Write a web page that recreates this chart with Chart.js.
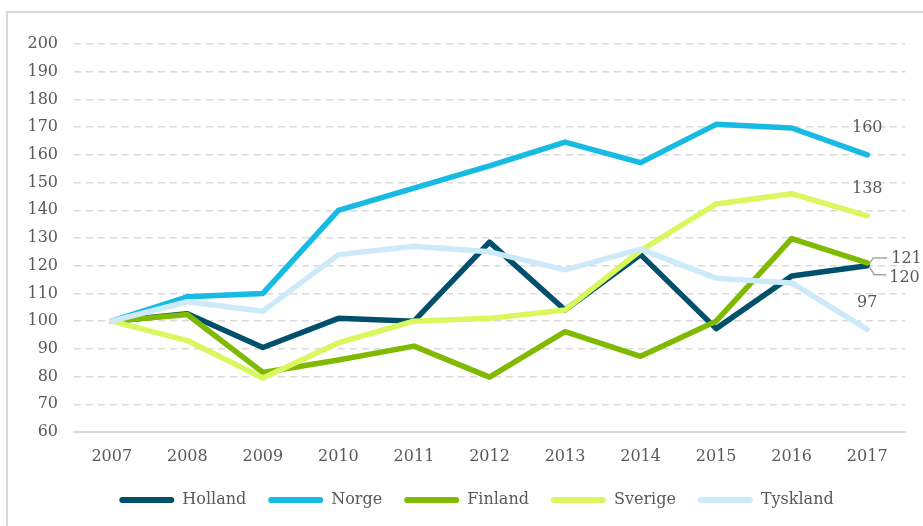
<!DOCTYPE html>
<html>
<head>
<meta charset="utf-8">
<script src="https://cdn.jsdelivr.net/npm/chart.js@4.4.1/dist/chart.umd.min.js"></script>
<style>
  body { margin: 0; background: #fff; }
  .wrap { position: relative; width: 923px; height: 526px; }
  .frame { position: absolute; left: 6px; top: 11px; right: -4px; bottom: -4px;
           border-left: 2px solid #d9d9d9; border-top: 2px solid #d9d9d9; }
  canvas { position: absolute; left: 0; top: 0; }
</style>
</head>
<body>
<div class="wrap">
  <div class="frame"></div>
  <canvas id="myChart" width="923" height="526"></canvas>
</div>
<script>
const years = ['2007', '2008', '2009', '2010', '2011', '2012', '2013', '2014', '2015', '2016', '2017'];
const holland  = [100, 102.7, 90.5, 101, 100, 128.5, 104, 124, 97.3, 116.3, 120];
const norge    = [100, 108.8, 110, 140, 148, 156, 164.6, 157.2, 171, 169.7, 160];
const finland  = [100, 102.4, 81.5, 86, 91, 79.8, 96.2, 87.3, 100, 129.8, 121];
const sverige  = [100, 93, 79.5, 92.2, 100, 101, 104, 125.5, 142.3, 146, 138];
const tyskland = [100, 107, 103.6, 124, 127, 125, 118.5, 126, 115.5, 113.8, 97];
const yTicks = { min: 60, max: 200, step: 10 };

const textColor = '#595959';
const serif = 'DejaVu Serif';

function line(label, data, color, order) {
  return {
    label: label,
    data: data,
    borderColor: color,
    backgroundColor: color,
    borderWidth: 5.5,
    pointRadius: 0,
    tension: 0,
    borderCapStyle: 'round',
    borderJoinStyle: 'round',
    order: order
  };
}

// value labels at the end of each line
const endLabels = {
  id: 'endLabels',
  afterLayout(chart) {
    // legend sits a bit right of centre in the original
    chart.legend.left += 40;
  },
  afterDatasetsDraw(chart) {
    const ctx = chart.ctx;
    const last = years.length - 1;
    const pt = function(i) { return chart.getDatasetMeta(i).data[last]; };
    ctx.save();
    ctx.font = '16px "' + serif + '"';
    ctx.fillStyle = textColor;
    ctx.textBaseline = 'middle';
    ctx.textAlign = 'center';
    [1, 3, 4].forEach(function(i) {
      const p = pt(i);
      ctx.fillText(String(chart.data.datasets[i].data[last]), p.x, p.y - 27);
    });
    // the two close ones get leader lines
    const fin = pt(2), hol = pt(0);
    ctx.strokeStyle = '#a6a6a6';
    ctx.lineWidth = 1.5;
    ctx.beginPath();
    ctx.moveTo(fin.x + 2, fin.y + 1);
    ctx.lineTo(fin.x + 6, fin.y - 5);
    ctx.lineTo(fin.x + 20, fin.y - 5);
    ctx.moveTo(hol.x + 2, hol.y + 1);
    ctx.lineTo(hol.x + 7, hol.y + 9);
    ctx.lineTo(hol.x + 19, hol.y + 9);
    ctx.stroke();
    ctx.textAlign = 'left';
    ctx.fillText(String(finland[last]), fin.x + 24, fin.y - 4);
    ctx.fillText(String(holland[last]), hol.x + 22, hol.y + 12);
    ctx.restore();
  }
};

const ctx = document.getElementById('myChart').getContext('2d');
const chart = new Chart(ctx, {
  type: 'line',
  data: {
    labels: years,
    datasets: [
      line('Holland', holland, '#00506b', 5),
      line('Norge', norge, '#17bae3', 4),
      line('Finland', finland, '#80ba00', 3),
      line('Sverige', sverige, '#daf760', 2),
      line('Tyskland', tyskland, '#cdeaf8', 1)
    ]
  },
  options: {
    responsive: false,
    animation: false,
    layout: { padding: { left: 8, right: 18, top: 44, bottom: 8 } },
    scales: {
      x: {
        offset: true,
        grid: { display: false },
        border: { display: true, color: '#d9d9d9', width: 2 },
        ticks: { color: textColor, font: { family: serif, size: 16 }, padding: 7, maxRotation: 0 },
        afterFit: function(scale) { scale.height = 38; }
      },
      y: {
        min: yTicks.min,
        max: yTicks.max,
        border: { display: false, dash: [7, 5] },
        grid: {
          drawTicks: false,
          lineWidth: 1.5,
          color: function(c) { return c.tick && c.tick.value === yTicks.min ? 'rgba(0,0,0,0)' : '#d9d9d9'; }
        },
        ticks: { stepSize: yTicks.step, color: textColor, font: { family: serif, size: 16 }, padding: 16 },
        afterFit: function(scale) { scale.width = 66; }
      }
    },
    plugins: {
      tooltip: { enabled: false },
      legend: {
        position: 'bottom',
        labels: {
          color: textColor,
          font: { family: serif, size: 16 },
          boxWidth: 55,
          boxHeight: 6,
          useBorderRadius: true,
          borderRadius: 3,
          padding: 22,
          sort: function(a, b) { return a.datasetIndex - b.datasetIndex; },
          generateLabels: function(chart) {
            const items = Chart.defaults.plugins.legend.labels.generateLabels(chart);
            items.forEach(function(it) { it.lineWidth = 0; });
            return items;
          }
        }
      }
    }
  },
  plugins: [endLabels]
});
</script>
</body>
</html>
